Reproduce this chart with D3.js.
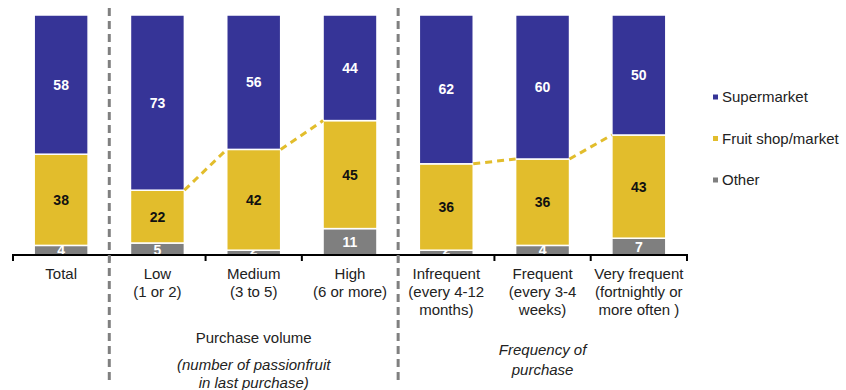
<!DOCTYPE html>
<html>
<head>
<meta charset="utf-8">
<script src="https://cdn.jsdelivr.net/npm/d3@7"></script>
<style>
  html, body { margin: 0; padding: 0; background: #fff; }
  svg { display: block; font-family: "Liberation Sans", Arial, sans-serif; }
</style>
</head>
<body>
<svg id="chart" width="846" height="390"></svg>
<script>
// Categories (multi-line tick labels)
const categories = ["Total", "Low", "Medium", "High", "Infrequent", "Frequent", "Very frequent"];
const categoryLines = [
  ["Total"],
  ["Low", "(1 or 2)"],
  ["Medium", "(3 to 5)"],
  ["High", "(6 or more)"],
  ["Infrequent", "(every 4-12", "months)"],
  ["Frequent", "(every 3-4", "weeks)"],
  ["Very frequent", "(fortnightly or", "more often )"]
];

// Share of purchases by outlet (%)
const other       = [4, 5, 2, 11, 2, 4, 7];
const fruitShop   = [38, 22, 42, 45, 36, 36, 43];
const supermarket = [58, 73, 56, 44, 62, 60, 50];

const seriesNames = ["Other", "Fruit shop/market", "Supermarket"];
const seriesKeys  = ["other", "fruit", "super"];
const colors = { other: "#7f7f7f", fruit: "#e2bd2c", super: "#363497" };
const labelColors = { other: "#ffffff", fruit: "#111111", super: "#ffffff" };

// Dashed trend links between the tops of the fruit-shop segments
const trendLinks = [["Low", "Medium"], ["Medium", "High"], ["Infrequent", "Frequent"], ["Frequent", "Very frequent"]];

const rows = categories.map((c, i) => ({ cat: c, other: other[i], fruit: fruitShop[i], super: supermarket[i] }));

const svg = d3.select("#chart");

const x = d3.scaleBand().domain(categories).range([13, 687]).paddingInner(0.44).paddingOuter(0.22);
const y = d3.scaleLinear().domain([0, 100]).range([255, 15]);

const stacked = d3.stack().keys(seriesKeys)(rows);

// Bars
const layers = svg.append("g").selectAll("g").data(stacked).join("g")
  .attr("fill", d => colors[d.key]);

layers.selectAll("rect").data(d => d.map(p => Object.assign(p, { key: d.key }))).join("rect")
  .attr("x", d => x(d.data.cat))
  .attr("width", x.bandwidth())
  .attr("y", d => y(d[1]))
  .attr("height", d => y(d[0]) - y(d[1]))
  .attr("stroke", "#ffffff")
  .attr("stroke-width", 1.5);

// Value labels
layers.selectAll("text").data(d => d).join("text")
  .attr("x", d => x(d.data.cat) + x.bandwidth() / 2)
  .attr("y", d => {
    const v = d[1] - d[0];
    return v < 6 ? y(d[0]) : (y(d[0]) + y(d[1])) / 2;
  })
  .attr("dy", d => (d[1] - d[0]) < 6 ? "0" : "0.35em")
  .attr("text-anchor", "middle")
  .attr("font-size", 14)
  .attr("font-weight", "bold")
  .attr("fill", d => labelColors[d.key])
  .text(d => d.data[d.key]);

// Dashed trend lines
const fruitTop = c => { const r = rows.find(r => r.cat === c); return r.other + r.fruit; };
svg.append("g").selectAll("line").data(trendLinks).join("line")
  .attr("x1", d => x(d[0]) + x.bandwidth())
  .attr("y1", d => y(fruitTop(d[0])))
  .attr("x2", d => x(d[1]))
  .attr("y2", d => y(fruitTop(d[1])))
  .attr("stroke", "#e2bd2c")
  .attr("stroke-width", 3)
  .attr("stroke-dasharray", "7,5");

// Axis baseline with ticks at category boundaries
const axis = d3.axisBottom(x).tickSize(0).tickFormat("");
const axisG = svg.append("g").attr("transform", "translate(0,255)").call(axis);
axisG.select(".domain").attr("stroke", "#000").attr("stroke-width", 2)
  .attr("d", "M13,6V0H687V6");
const step = x.step();
const boundaries = d3.range(1, categories.length).map(i => x(categories[i]) - (step - x.bandwidth()) / 2);
axisG.selectAll(".tb").data(boundaries).join("line")
  .attr("x1", d => d).attr("x2", d => d).attr("y1", 0).attr("y2", 6)
  .attr("stroke", "#000").attr("stroke-width", 2);

// Category labels
const labelG = svg.append("g").attr("font-size", 15).attr("fill", "#222").attr("text-anchor", "middle");
categories.forEach((c, i) => {
  labelG.append("text")
    .attr("x", x(c) + x.bandwidth() / 2)
    .attr("y", 279)
    .selectAll("tspan").data(categoryLines[i]).join("tspan")
    .attr("x", x(c) + x.bandwidth() / 2)
    .attr("dy", (d, j) => j === 0 ? 0 : 18)
    .text(d => d);
});

// Group separators
svg.append("g").selectAll("line").data([boundaries[0], boundaries[3]]).join("line")
  .attr("x1", d => d).attr("x2", d => d).attr("y1", 8).attr("y2", 380)
  .attr("stroke", "#808080").attr("stroke-width", 3).attr("stroke-dasharray", "8,5");

// Group titles
const midOf = (a, b) => (x(a) + x(b) + x.bandwidth()) / 2;
const g1 = svg.append("g").attr("font-size", 15).attr("fill", "#222").attr("text-anchor", "middle");
g1.append("text").attr("x", midOf("Low", "High")).attr("y", 343).text("Purchase volume");
g1.append("text").attr("x", midOf("Low", "High")).attr("y", 370).attr("font-style", "italic").text("(number of passionfruit");
g1.append("text").attr("x", midOf("Low", "High")).attr("y", 388).attr("font-style", "italic").text("in last purchase)");
g1.append("text").attr("x", midOf("Infrequent", "Very frequent")).attr("y", 355).attr("font-style", "italic").text("Frequency of");
g1.append("text").attr("x", midOf("Infrequent", "Very frequent")).attr("y", 375).attr("font-style", "italic").text("purchase");

// Legend
const legendItems = seriesKeys.map((k, i) => ({ key: k, name: seriesNames[i] })).reverse();
const legend = svg.append("g").selectAll("g").data(legendItems).join("g")
  .attr("transform", (d, i) => `translate(713,${97 + i * 41.5})`);
legend.append("rect").attr("x", 0).attr("y", -2.5).attr("width", 5).attr("height", 5)
  .attr("fill", d => colors[d.key]);
legend.append("text").attr("x", 9).attr("y", 0).attr("dy", "0.35em")
  .attr("font-size", 15).attr("fill", "#222").text(d => d.name);
</script>
</body>
</html>
